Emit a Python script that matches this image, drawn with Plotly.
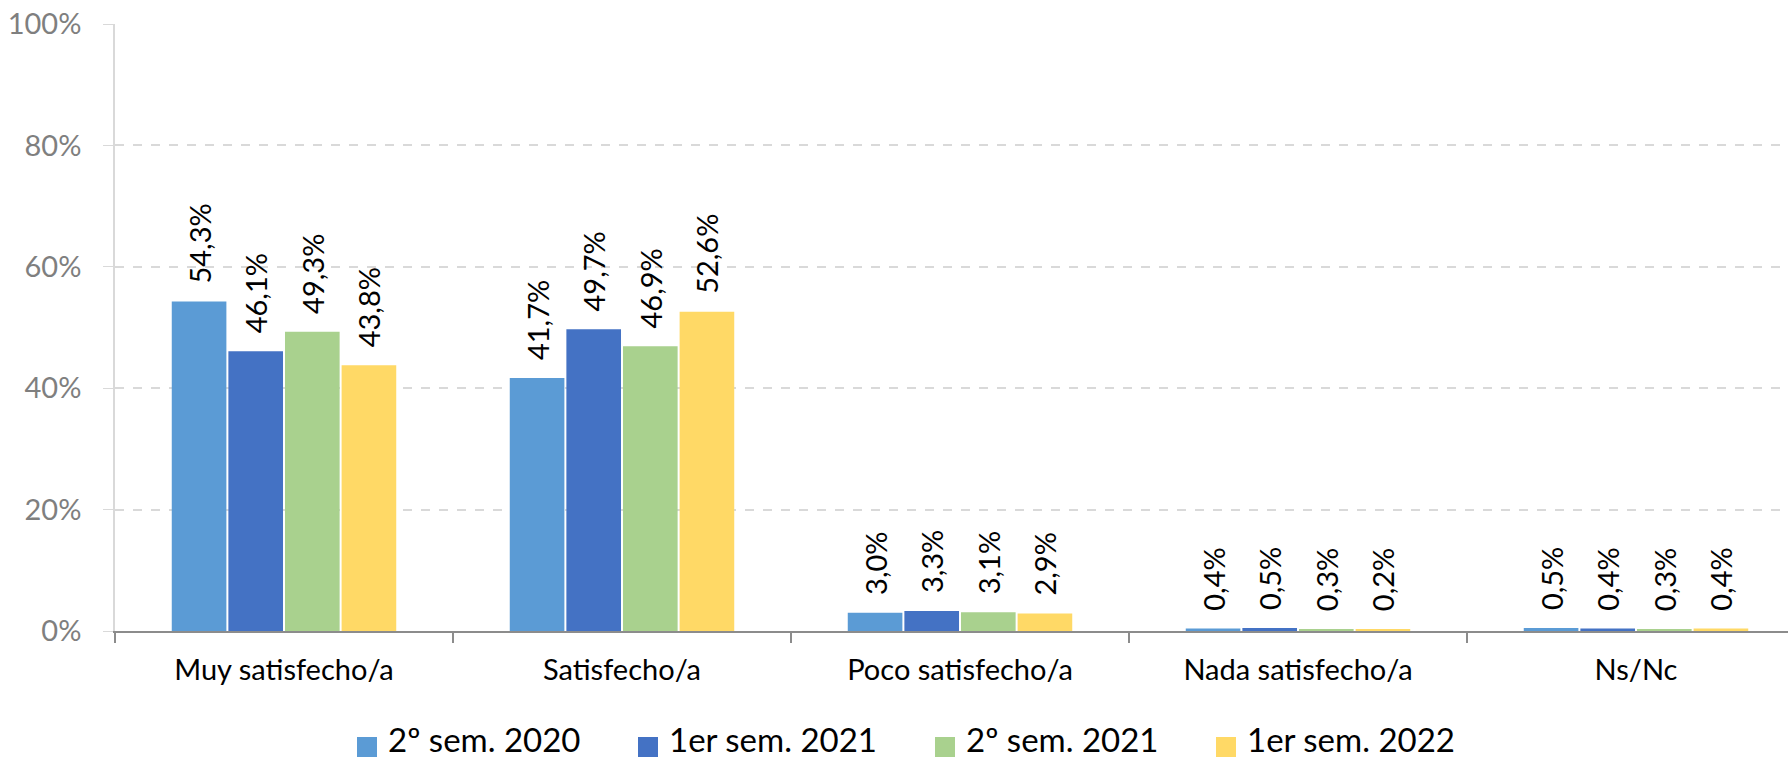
import plotly.graph_objects as go

categories = ["Muy satisfecho/a", "Satisfecho/a", "Poco satisfecho/a", "Nada satisfecho/a", "Ns/Nc"]
series_names = ["2º sem. 2020", "1er sem. 2021", "2º sem. 2021", "1er sem. 2022"]
values_2s2020 = [54.3, 41.7, 3.0, 0.4, 0.5]
values_1s2021 = [46.1, 49.7, 3.3, 0.5, 0.4]
values_2s2021 = [49.3, 46.9, 3.1, 0.3, 0.3]
values_1s2022 = [43.8, 52.6, 2.9, 0.2, 0.4]
series_values = [values_2s2020, values_1s2021, values_2s2021, values_1s2022]
colors = ["#5B9BD5", "#4472C4", "#A9D18E", "#FFD966"]
y_ticks = [0, 20, 40, 60, 80, 100]
y_tick_labels = [f"{v}%" for v in y_ticks]

FONT = "Lato"
W, H = 1788, 762
ML, MR, MT, MB = 115, 0, 24, 131

fig = go.Figure()
for name, vals, col in zip(series_names, series_values, colors):
    fig.add_trace(go.Bar(
        x=categories, y=vals, name=name,
        marker=dict(color=col, line=dict(width=0)),
        texttemplate="\u00a0\u00a0%{y:.1f}%",
        textposition="outside", textangle=-90,
        textfont=dict(family=FONT, size=29, color="black"),
        constraintext="none", cliponaxis=False,
        showlegend=False, hoverinfo="skip",
    ))

# manual legend (squares + labels)
plot_w = W - ML - MR
plot_h = H - MT - MB
def px_x(p):
    return (p - ML) / plot_w
def px_y(p):
    return (H - MB - p) / plot_h

legend_sq_x = [357, 638, 935, 1216]
shapes = []
annotations = []
for name, col, sx in zip(series_names, colors, legend_sq_x):
    shapes.append(dict(type="rect", xref="paper", yref="paper",
                       x0=px_x(sx), x1=px_x(sx + 20), y0=px_y(757), y1=px_y(737),
                       fillcolor=col, line=dict(width=0)))
    annotations.append(dict(xref="paper", yref="paper", x=px_x(sx + 29), y=px_y(761),
                            xanchor="left", yanchor="bottom", text=name, showarrow=False,
                            font=dict(family=FONT, size=33, color="black")))

fig.update_layout(
    width=W, height=H,
    margin=dict(l=ML, r=MR, t=MT, b=MB, pad=0),
    paper_bgcolor="white", plot_bgcolor="white",
    barmode="group", bargap=0.33, bargroupgap=0.035,
    separators=",.",
    font=dict(family=FONT),
    shapes=shapes, annotations=annotations,
    showlegend=False,
)
fig.update_xaxes(
    type="category", range=[-0.5, -0.5 + plot_w / 338.0],
    tickson="boundaries", ticks="outside", ticklen=10, tickcolor="#8C8C8C", tickwidth=1.5,
    showline=True, linecolor="#8C8C8C", linewidth=1.5,
    tickfont=dict(family=FONT, size=29, color="black"),
    ticklabelstandoff=12, showgrid=False, zeroline=False, automargin=False,
)
fig.update_yaxes(
    range=[0, 100], tickmode="array", tickvals=y_ticks, ticktext=y_tick_labels,
    showgrid=True, gridcolor="#D9D9D9", griddash="dash", gridwidth=1.5,
    showline=True, linecolor="#D9D9D9", linewidth=1.5,
    ticks="outside", ticklen=10, tickcolor="#D9D9D9",
    tickfont=dict(family=FONT, size=29, color="#7F7F7F"),
    ticklabelstandoff=16, zeroline=False, automargin=False,
)

fig.write_html(
    "out.html",
    config={"displayModeBar": False},
    post_script="document.body.style.margin='0';document.body.style.overflow='hidden';",
)
